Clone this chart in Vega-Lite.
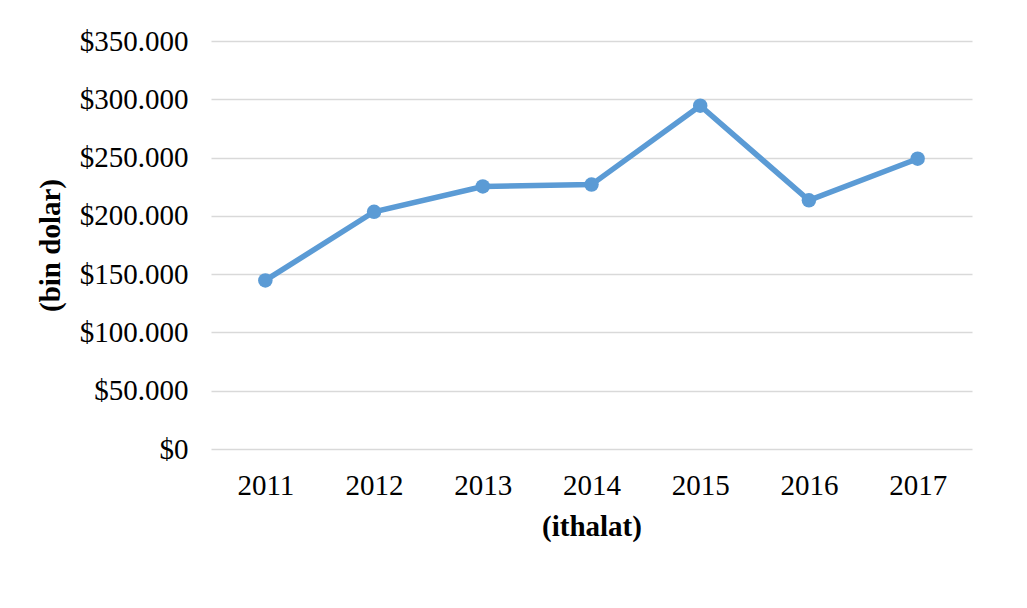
{
  "$schema": "https://vega.github.io/schema/vega-lite/v6.json",
  "autosize": {"type": "none"},
  "width": 761,
  "height": 408,
  "padding": {"left": 211, "top": 41, "right": 55, "bottom": 159},
  "background": "white",
  "data": {"values": [
    {"yil": "2011", "deger": 144600},
    {"yil": "2012", "deger": 203500},
    {"yil": "2013", "deger": 225200},
    {"yil": "2014", "deger": 226800},
    {"yil": "2015", "deger": 294500},
    {"yil": "2016", "deger": 213300},
    {"yil": "2017", "deger": 249000}
  ]},
  "encoding": {
    "x": {"field": "yil", "type": "ordinal", "title": "(ithalat)",
      "axis": {"labelAngle": 0, "domain": false, "ticks": false, "tickSize": 0, "grid": false, "labelPadding": 22, "titlePadding": 12}},
    "y": {"field": "deger", "type": "quantitative", "title": "(bin dolar)",
      "scale": {"domain": [0, 350000], "nice": false},
      "axis": {"values": [0, 50000, 100000, 150000, 200000, 250000, 300000, 350000],
        "labelExpr": "'$' + replace(format(datum.value, ','), ',', '.')",
        "domain": false, "ticks": false, "tickSize": 0, "labelPadding": 23, "titlePadding": 14,
        "gridColor": "#D9D9D9", "gridWidth": 1.5}}
  },
  "layer": [
    {"mark": {"type": "line", "color": "#5B9BD5", "strokeWidth": 5.5}},
    {"mark": {"type": "point", "filled": true, "color": "#5B9BD5", "size": 210, "opacity": 1}}
  ],
  "config": {
    "view": {"stroke": null},
    "scale": {"bandPaddingInner": 0, "bandPaddingOuter": 0},
    "axis": {"labelFont": "Liberation Serif", "labelFontSize": 29, "labelColor": "#000000",
      "titleFont": "Liberation Serif", "titleFontSize": 29, "titleFontWeight": "bold", "titleColor": "#000000"}
  }
}
